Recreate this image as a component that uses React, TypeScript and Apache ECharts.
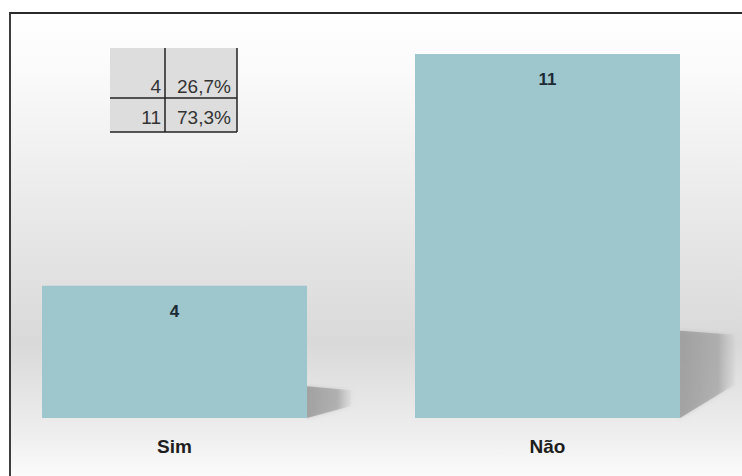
import React, { useEffect, useRef } from "react";
import * as echarts from "echarts";

const categories = ["Sim", "Não"];
const counts = [4, 11];
const pctLabels = ["26,7%", "73,3%"];

const BAR_COLOR = "#9ec6cd";
const BAR_W = 265;
const OX = 12; // the chart canvas starts 12px left of the page

export default function App() {
  const ref = useRef<HTMLDivElement>(null);

  useEffect(() => {
    if (!ref.current) return;
    const chart = echarts.init(ref.current, null, { renderer: "svg" });

    const tableX0 = 110 + OX, tableX1 = 237 + OX, tableDiv = 165 + OX;
    const tableY0 = 48, tableMid = 98, tableY1 = 132;
    const rowY = [86, 117];
    const font = "19px 'Liberation Sans', Arial, sans-serif";

    const tableTexts: any[] = [];
    counts.forEach((c, i) => {
      tableTexts.push({
        type: "text",
        x: tableDiv - 4,
        y: rowY[i],
        z: 5,
        style: { text: String(c), align: "right", verticalAlign: "middle", font, fill: "#333333" },
      });
      tableTexts.push({
        type: "text",
        x: tableDiv + 12,
        y: rowY[i],
        z: 5,
        style: { text: pctLabels[i], align: "left", verticalAlign: "middle", font, fill: "#333333" },
      });
    });

    const lineStyle = { stroke: "#222222", lineWidth: 1.5 };

    const option: any = {
      animation: false,
      grid: { left: 0, right: 8, top: 54, bottom: 58 },
      xAxis: {
        type: "category",
        data: categories,
        axisLine: { show: false },
        axisTick: { show: false },
        splitLine: { show: false },
        axisLabel: {
          margin: 19,
          fontSize: 19,
          fontWeight: "bold",
          fontFamily: "'Liberation Sans', Arial, sans-serif",
          color: "#1e1e1e",
        },
      },
      yAxis: {
        type: "value",
        min: 0,
        max: 11,
        show: false,
        splitLine: { show: false },
      },
      graphic: [
        {
          type: "rect",
          z: -20,
          silent: true,
          shape: { x: 10 + OX, y: 13, width: 760, height: 500 },
          style: {
            fill: new echarts.graphic.LinearGradient(0, 0, 0, 1, [
              { offset: 0, color: "#ffffff" },
              { offset: 0.12, color: "#fafafa" },
              { offset: 0.4, color: "#e9e9e9" },
              { offset: 0.66, color: "#d9d9d9" },
              { offset: 0.84, color: "#eeeeee" },
              { offset: 0.94, color: "#fdfdfd" },
              { offset: 1, color: "#ffffff" },
            ]),
            stroke: "#2a2a2a",
            lineWidth: 1.8,
          },
        },
        {
          type: "rect",
          z: 4,
          silent: true,
          shape: { x: tableX0, y: tableY0, width: tableX1 - tableX0, height: tableY1 - tableY0 },
          style: { fill: "#dddddd" },
        },
        { type: "line", z: 5, shape: { x1: tableDiv, y1: tableY0, x2: tableDiv, y2: tableY1 }, style: lineStyle },
        { type: "line", z: 5, shape: { x1: tableX1, y1: tableY0, x2: tableX1, y2: tableY1 }, style: lineStyle },
        { type: "line", z: 5, shape: { x1: tableX0, y1: tableMid, x2: tableX1, y2: tableMid }, style: lineStyle },
        { type: "line", z: 5, shape: { x1: tableX0, y1: tableY1, x2: tableX1, y2: tableY1 }, style: lineStyle },
        ...tableTexts,
      ],
      series: [
        {
          type: "custom",
          z: 1,
          silent: true,
          data: counts.map((v, i) => [i, v]),
          renderItem: (params: any, api: any) => {
            const idx = api.value(0);
            const v = api.value(1);
            const top = api.coord([idx, v]);
            const base = api.coord([idx, 0]);
            const h = base[1] - top[1];
            const R = top[0] + BAR_W / 2;
            const B = base[1];
            const sh = 0.24 * h;
            const sw = 38 + 0.045 * h;
            const rightBottom = B - Math.max(sh * 0.38, 10);
            return {
              type: "polygon",
              shape: {
                points: [
                  [R, B - sh],
                  [R + sw, B - sh + 4],
                  [R + sw, rightBottom],
                  [R, B],
                ],
              },
              style: {
                fill: new echarts.graphic.LinearGradient(0, 0, 1, 0, [
                  { offset: 0, color: "rgba(150,150,150,0.8)" },
                  { offset: 0.7, color: "rgba(160,160,160,0.65)" },
                  { offset: 1, color: "rgba(200,200,200,0.2)" },
                ]),
                shadowBlur: 4,
                shadowColor: "rgba(160,160,160,0.5)",
              },
            };
          },
        },
        {
          type: "bar",
          z: 3,
          data: counts,
          barWidth: BAR_W,
          itemStyle: { color: BAR_COLOR },
          label: {
            show: true,
            position: "insideTop",
            distance: 17,
            fontSize: 17,
            fontWeight: "bold",
            fontFamily: "'Liberation Sans', Arial, sans-serif",
            color: "#1b2b33",
          },
        },
      ],
    };

    chart.setOption(option);
    return () => chart.dispose();
  }, []);

  return (
    <div
      ref={ref}
      style={{ position: "fixed", left: -OX, top: 0, width: 742 + OX, height: 476, background: "#ffffff" }}
    />
  );
}
